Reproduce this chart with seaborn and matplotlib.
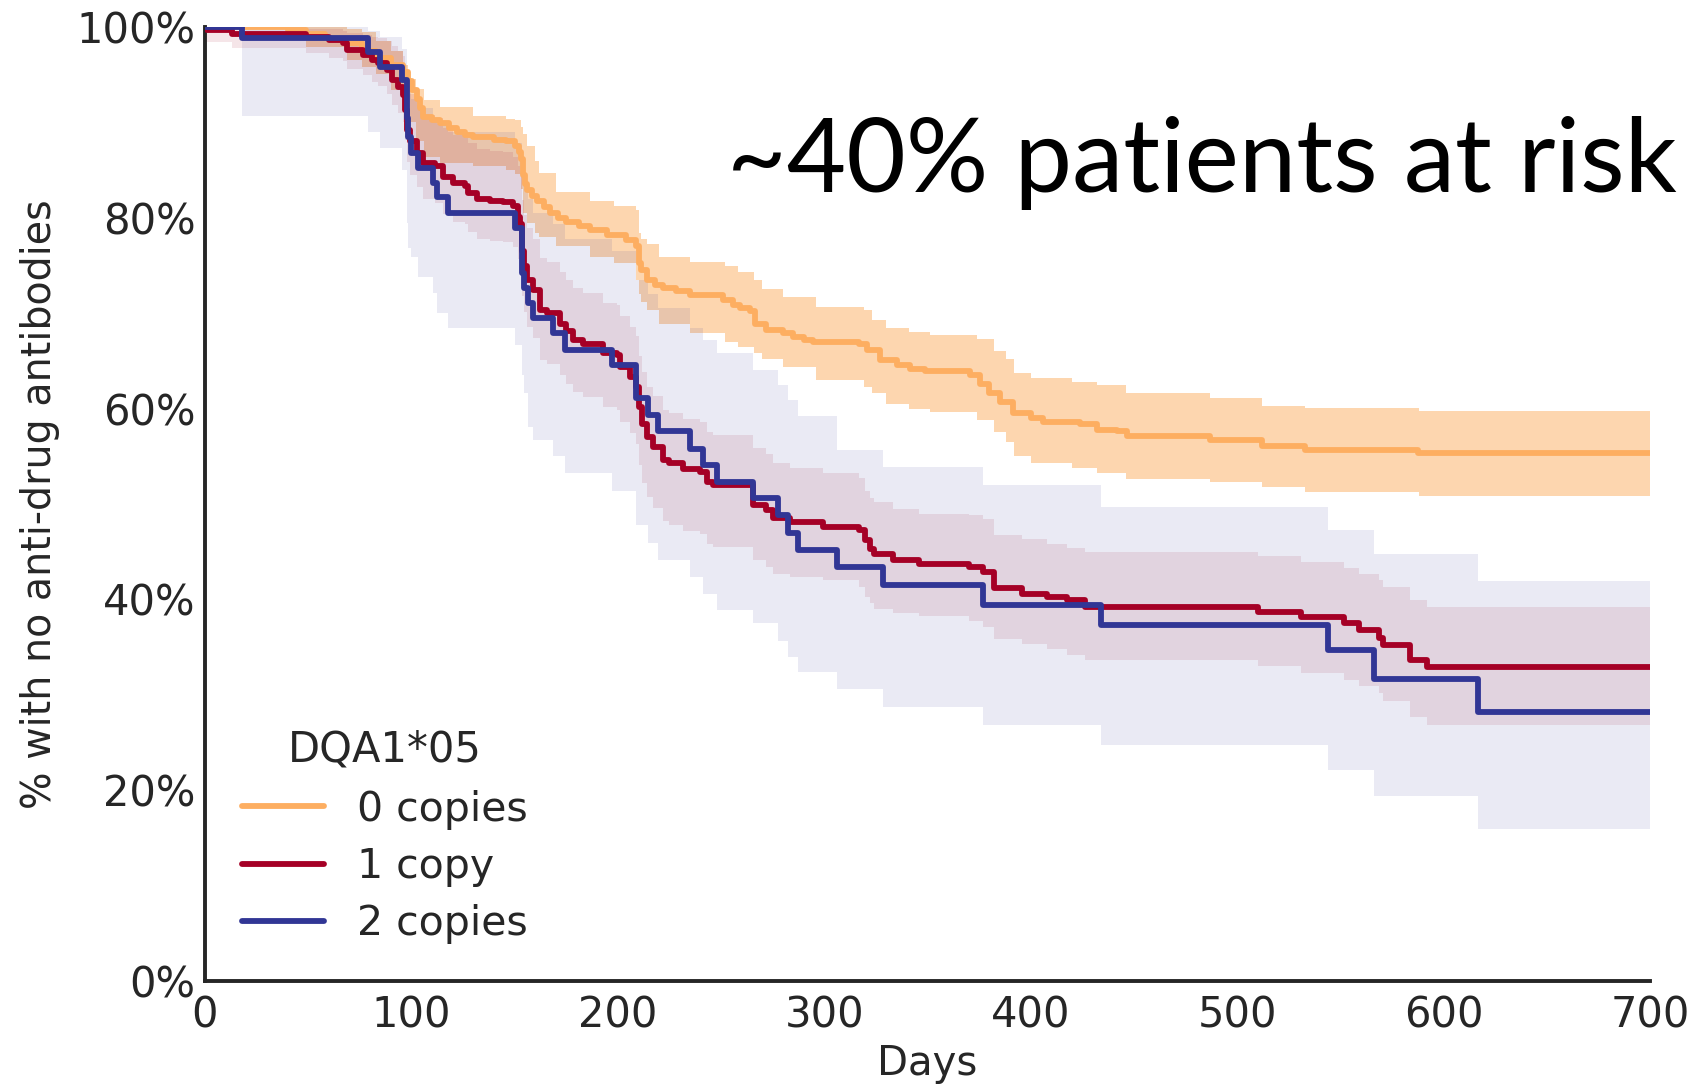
import numpy as np
import pandas as pd
import matplotlib
matplotlib.use("Agg")
import matplotlib.pyplot as plt
import seaborn as sns
from matplotlib.lines import Line2D

# ---------------- data ----------------
groups = ["0 copies", "1 copy", "2 copies"]
colors = ["#fdae61", "#a50026", "#313695"]
x_max = 700

# 0 copies
t0 = [0, 40, 49, 58, 68.6, 76, 83, 90, 96, 98.5, 100.5, 102.5, 104, 105.7, 110, 114, 118, 122, 126, 130,
      140, 146, 150, 152, 153, 154, 155, 156, 158.5, 160.7, 164, 167, 171, 175, 181, 186.5, 194.6, 204, 209,
      210, 211, 214, 218, 222, 228, 235, 251, 256, 259, 264, 266.5, 272, 280, 285, 290, 294.7, 317, 320.5,
      327, 335, 341.6, 349, 370.6, 375.5, 380, 385, 391.6, 400, 406, 424, 432, 441.7, 446.5, 487, 512, 533,
      587.7]
s0 = [100, 99.7, 99.3, 98.8, 98.3, 97.5, 96.7, 96.0, 95.3, 94.3, 93.4, 92.5, 91.5, 90.6, 90.2, 89.9, 89.4,
      89.0, 88.7, 88.5, 88.2, 88.0, 87.5, 86.9, 86.2, 84.5, 83.5, 82.9, 82.3, 81.8, 81.1, 80.5, 80.0, 79.6,
      79.1, 78.7, 78.2, 77.7, 77.0, 75.3, 74.5, 73.5, 73.0, 72.6, 72.3, 71.9, 71.4, 70.9, 70.5, 70.2, 68.9,
      68.2, 67.9, 67.5, 67.2, 67.0, 66.8, 66.1, 65.1, 64.6, 64.2, 63.9, 63.5, 62.6, 61.6, 60.7, 59.5, 59.0,
      58.6, 58.4, 57.8, 57.6, 57.1, 56.7, 56.1, 55.7, 55.3]
ci_t0 = [0, 40, 49, 68.6, 76, 83, 90, 96, 98.5, 102, 106, 114, 130, 146, 150, 153, 154, 156, 160, 162, 170,
         186.5, 198, 209, 210, 211, 214, 220, 235, 252, 258, 266, 270, 280, 296, 319, 323, 330, 341, 351, 374,
         382, 388, 392, 400, 420, 432, 446, 487, 512, 533, 588]
hi0 = [100, 100, 100, 99.8, 99.5, 98.5, 97.5, 96.0, 94.6, 93.5, 92.3, 91.6, 90.7, 90.4, 90.3, 89.5, 88.8,
       87.5, 86.0, 84.7, 82.7, 81.8, 81.2, 80.8, 78.4, 77.8, 77.3, 75.9, 75.4, 74.9, 74.3, 73.5, 72.5, 71.7,
       70.7, 70.3, 69.3, 68.5, 68.0, 67.7, 67.3, 66.0, 65.2, 63.7, 63.2, 62.8, 62.5, 61.6, 61.1, 60.3, 60.1,
       59.7]
lo0 = [100, 99.3, 97.9, 96.5, 95.8, 95.1, 93.4, 92.1, 90.0, 88.0, 86.4, 85.7, 85.4, 85.0, 84.6, 83.0, 80.5,
       79.5, 78.4, 78.0, 77.0, 75.9, 75.3, 73.5, 72.0, 71.2, 70.3, 68.9, 67.9, 67.0, 66.5, 65.8, 65.2, 64.4,
       63.0, 62.3, 61.6, 60.5, 60.0, 59.6, 58.8, 57.5, 56.5, 55.0, 54.3, 53.8, 53.3, 52.6, 52.3, 51.8, 51.3,
       50.8]

# 1 copy
t1 = [0, 1, 13, 49, 60, 67, 68.6, 76.7, 80.8, 84, 88, 90.5, 93.7, 96, 97, 97.7, 99.3, 102.6, 105.8, 111.4,
      115.4, 120.3, 126, 127.6, 131.6, 138, 144.5, 149.4, 151.8, 152.6, 153.4, 154.5, 156, 159, 162.3, 165.5,
      172, 175, 178.5, 183, 193, 199.4, 201, 206, 209, 210, 211.5, 214, 217, 222, 225, 231.7, 240, 243, 246,
      265.7, 272, 275.3, 283.5, 299.6, 317, 319.5, 322, 324, 333.5, 346, 370, 377, 382, 395.6, 407.7, 417.4,
      426.4, 510, 531, 552, 559, 568.5, 570.5, 583.5, 592]
s1 = [100, 99.7, 99.3, 99.0, 98.6, 98.3, 97.6, 97.1, 96.5, 96.2, 95.5, 94.4, 93.7, 92.9, 91.3, 89.2, 88.0,
      86.8, 85.7, 85.4, 84.3, 83.6, 83.3, 82.6, 82.0, 81.8, 81.7, 81.2, 80.1, 79.4, 76.5, 74.9, 73.5, 72.4,
      70.3, 70.0, 68.9, 68.1, 67.2, 66.8, 65.8, 65.6, 64.4, 63.3, 62.3, 60.2, 58.4, 57.0, 56.0, 54.6, 54.3,
      53.7, 53.4, 52.3, 52.0, 49.9, 49.4, 48.5, 48.1, 47.6, 47.3, 46.2, 45.3, 44.8, 44.1, 43.7, 43.4, 42.9,
      41.2, 40.6, 40.3, 39.9, 39.2, 38.7, 38.2, 37.5, 36.8, 36.0, 35.2, 33.7, 32.9]
hi1 = [100, 100, 100, 99.8, 99.8, 99.6, 99.4, 99.2, 99.0, 98.8, 98.5, 98.0, 97.5, 97.0, 95.5, 94.0, 93.0,
       91.8, 90.8, 90.5, 89.4, 88.7, 88.4, 87.8, 87.2, 87.0, 86.9, 86.4, 85.4, 84.7, 81.9, 80.3, 78.9, 77.8,
       75.8, 75.4, 74.3, 73.5, 72.6, 72.1, 71.1, 70.9, 69.7, 68.6, 67.6, 65.5, 63.8, 62.3, 61.3, 59.9, 59.5,
       58.9, 58.6, 57.5, 57.2, 55.9, 55.2, 54.3, 53.8, 53.3, 52.7, 51.4, 50.6, 50.2, 49.5, 49.0, 48.8, 48.4,
       46.8, 46.3, 45.8, 45.4, 45.0, 44.5, 43.9, 43.3, 42.7, 42.0, 41.3, 39.9, 39.2]
lo1 = [100, 98.4, 97.8, 97.3, 96.8, 96.4, 95.6, 95.0, 94.2, 93.8, 93.0, 91.8, 91.0, 90.0, 88.2, 85.8, 84.5,
       83.2, 82.0, 81.6, 80.4, 79.6, 79.3, 78.5, 77.8, 77.6, 77.5, 76.9, 75.7, 74.9, 71.8, 70.1, 68.6, 67.4,
       65.1, 64.7, 63.5, 62.6, 61.7, 61.2, 60.2, 59.9, 58.6, 57.4, 56.3, 54.1, 52.2, 50.7, 49.6, 48.2, 47.8,
       47.2, 46.9, 45.8, 45.5, 44.1, 43.4, 42.7, 42.3, 42.0, 41.3, 40.3, 39.6, 39.0, 38.6, 38.3, 37.7, 37.1,
       35.8, 35.3, 34.8, 34.2, 33.6, 33.0, 32.3, 31.6, 30.9, 30.2, 29.3, 27.7, 26.8]

# 2 copies
t2 = [0, 17.8, 79, 84.8, 95.3, 97.7, 98.5, 100, 103.3, 110.6, 112.3, 117.9, 150, 153.4, 154.5, 156.5, 159,
      168.5, 174.4, 197, 209, 214.7, 219.6, 235, 241.4, 248, 265.7, 277.8, 282.6, 287.4, 306, 328.6, 377,
      434, 544, 566.4, 616.6]
s2 = [100, 98.8, 97.4, 95.8, 94.4, 90.5, 88.5, 86.8, 85.2, 83.6, 82.2, 80.5, 78.9, 74.2, 72.6, 71.1, 69.5,
      67.9, 66.1, 64.6, 61.1, 59.3, 57.6, 55.8, 54.1, 52.3, 50.6, 48.8, 47.0, 45.2, 43.4, 41.5, 39.4, 37.3,
      34.7, 31.7, 28.2]
hi2 = [100, 100, 99.6, 99.0, 97.7, 95.0, 93.5, 92.5, 91.5, 90.5, 89.8, 89.0, 87.8, 84.5, 83.0, 82.0, 80.5,
       79.3, 77.8, 76.5, 73.5, 72.0, 70.5, 68.5, 67.2, 65.8, 64.0, 62.5, 60.9, 59.2, 55.7, 53.9, 52.0, 49.7,
       47.3, 44.8, 41.9]
lo2 = [100, 90.7, 89.0, 87.3, 85.0, 79.5, 76.8, 75.9, 73.8, 72.1, 70.0, 68.4, 66.7, 63.5, 61.6, 58.1, 56.7,
       55.0, 53.2, 51.4, 47.8, 45.9, 44.1, 42.4, 40.6, 38.9, 37.5, 35.6, 34.0, 32.4, 30.6, 28.7, 26.8, 24.7,
       22.1, 19.4, 15.9]

x_ticks = [0, 100, 200, 300, 400, 500, 600, 700]
y_ticks = [0, 20, 40, 60, 80, 100]
y_label = "% with no anti-drug antibodies"
x_label = "Days"
legend_title = "DQA1*05"
note = "~40% patients at risk"

# ---------------- plotting ----------------
sns.set_theme(style="white")
plt.rcParams["font.family"] = ["DejaVu Sans"]
text_color = "#262626"

fig = plt.figure(figsize=(16.95, 10.88), dpi=100)
ax = fig.add_axes([205 / 1695, 1 - 981 / 1088, (1650 - 205) / 1695, (981 - 27) / 1088])

line_t = [t0, t1, t2]
line_s = [s0, s1, s2]
ci_t = [ci_t0, t1, t2]
ci_hi = [hi0, hi1, hi2]
ci_lo = [lo0, lo1, lo2]
alphas = [0.5, 0.1, 0.1]

frames = []
for g, t, s in zip(groups, line_t, line_s):
    frames.append(pd.DataFrame({"Days": list(t) + [x_max], "pct": list(s) + [s[-1]], "group": g}))
df = pd.concat(frames, ignore_index=True)

for g, c, t, lo, hi, a in zip(groups, colors, ci_t, ci_lo, ci_hi, alphas):
    tt = list(t) + [x_max]
    ax.fill_between(tt, list(lo) + [lo[-1]], list(hi) + [hi[-1]], step="post",
                    color=c, alpha=a, linewidth=0, zorder=1)

sns.lineplot(data=df, x="Days", y="pct", hue="group", hue_order=groups,
             palette=dict(zip(groups, colors)), drawstyle="steps-post",
             estimator=None, sort=False, linewidth=4.2, ax=ax, zorder=3, legend=False)

ax.set_xlim(0, x_max)
ax.set_ylim(0, 100)
ax.set_xticks(x_ticks)
ax.set_xticklabels([str(v) for v in x_ticks], fontsize=30, color=text_color)
ax.set_yticks(y_ticks)
ax.set_yticklabels([f"{v}%" for v in y_ticks], fontsize=30, color=text_color)
ax.tick_params(axis="x", length=0, pad=10)
ax.tick_params(axis="y", length=0, pad=7)
ax.set_xlabel(x_label, fontsize=29, color=text_color, labelpad=5)
ax.set_ylabel(y_label, fontsize=28.5, color=text_color, labelpad=12)
sns.despine(ax=ax)
for side in ["left", "bottom"]:
    ax.spines[side].set_color(text_color)
    ax.spines[side].set_linewidth(2.8)

handles = [Line2D([0], [0], color=c, lw=4.2, solid_capstyle="round") for c in colors]
leg = ax.legend(handles, groups, title=legend_title, frameon=False, fontsize=29.5,
                title_fontsize=30, loc="lower left", bbox_to_anchor=(0.0, 0.0),
                handlelength=2.0, handletextpad=0.8, labelspacing=0.42, borderaxespad=0.5)
leg._legend_box.sep = 14
for txt in leg.get_texts():
    txt.set_color(text_color)
leg.get_title().set_color(text_color)

fig.text(727 / 1695, 1 - 192 / 1088, note, fontsize=74, family=["Lato", "DejaVu Sans"],
         color="black", va="baseline", ha="left")

fig.savefig("out.png", dpi=100)
